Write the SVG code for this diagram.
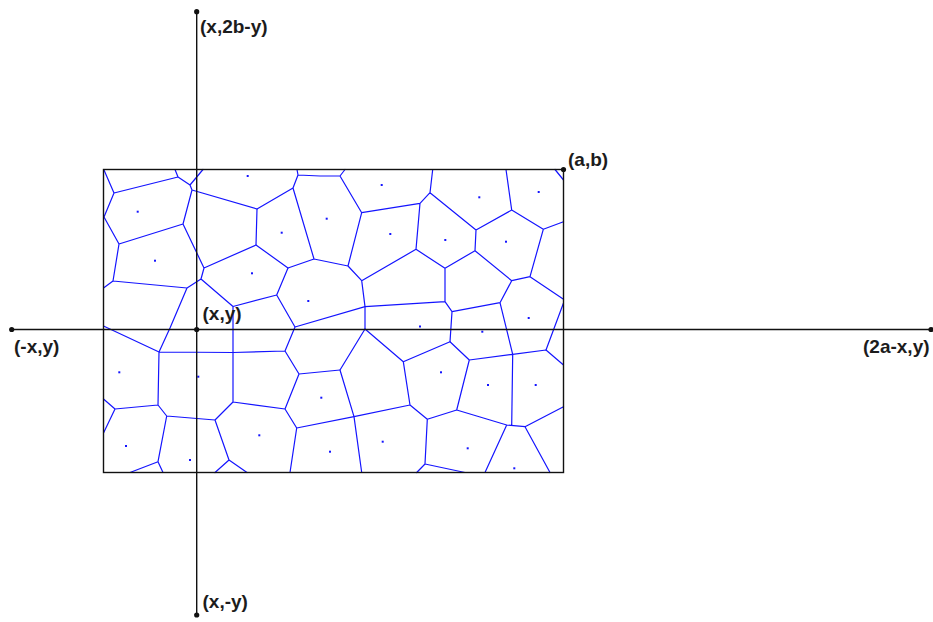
<svg xmlns="http://www.w3.org/2000/svg" width="933" height="622" viewBox="0 0 933 622">
<style>
.v{stroke:#1414ff;stroke-width:1.2;fill:none;stroke-linecap:round;stroke-linejoin:round}
.ax{stroke:#111;stroke-width:1.4;fill:none}
.s{fill:#1414ff}
.lbl{font-family:"Liberation Sans",Arial,sans-serif;font-weight:bold;font-size:19px;fill:#1c1c1c}
</style>
<rect width="933" height="622" fill="#fff"/>
<g id="voronoi" class="v">
<path d="M175,169.5L178,177L114,193L104,170M178,177L190,185L203,169.5M190,185L192,190L257,209M192,190L183,224M114,193L104,217L119,244L183,224M119,244L113,281L103.5,288M113,281L187,288M183,224L204,268L256,245M204,268L201,279L187,288M201,279L233,306.5M187,288L170,328L159,352M103.5,326L159,352L233,352.5L285,351M233,306.5L233,402M233,306.5L276.7,295L288,268M276.7,295L295,327L365,306.7M295,327L285,351L299,374L340,370M299,374L285,409L233,402M285,409L296.7,428L354,416.7M296.7,428L290,472.5M159,352L158,405L115,409L103.5,399M115,409L103.5,433M158,405L166.7,416L215,420L233,402M166.7,416L158,461.7L130,472.5M158,461.7L163,472.5M215,420L229,460L215,472.5M229,460L247,472.5"/>
<path d="M256,245L257,209L293,188L298,175L297,169.5M298,175L320,176L340,176L345,169.5M340,176L361.7,212.7L420,203.3L430,192.7L432.7,169.5M430,192.7L476,230M420,203.3L416,249.3M293,188L314,259L288,268L256,245M314,259L348,266L361.7,212.7M348,266L361.7,280.7L416,249.3L445,268.3L475,250.7M361.7,280.7L365,306.7L445,301.7L452,311.7L500,302.7M365,306.7L365,329M445,268.3L445,301.7M452,311.7L450,341.7M476,230L511.7,210L506,169.5M476,230L475,250.7L511.7,280.7L530,276.7L563.5,299.3M511.7,210L543.3,229.3L563.5,221.7M543.3,229.3L530,276.7M511.7,280.7L500,302.7L512.7,354.3M563.5,303L546,350M555,169.5L563.5,180"/>
<path d="M365,329L340,370L354,416.7L410,405M354,416.7L361.7,472.5M365,329L403.3,361.7L450,341.7L469.3,360L512.7,354.3L546,350L563.5,365M403.3,361.7L410,405L427.3,419.3L456.7,410L506.7,425L525,426.7L563.5,406.7M469.3,360L456.7,410M512.7,354.3L511.7,425M427.3,419.3L425,464L416.7,472.5M425,464L465,472.5M506.7,425L485,472.5M525,426.7L550,472.5"/>
</g>
<g id="sites" class="s">
<rect x="246.7" y="175" width="2" height="2"/><rect x="136.7" y="210.7" width="2" height="2"/><rect x="325.7" y="217.7" width="2" height="2"/><rect x="280.7" y="231.7" width="2" height="2"/><rect x="154" y="259.7" width="2" height="2"/><rect x="251" y="272.3" width="2" height="2"/><rect x="307.3" y="300" width="2" height="2"/><rect x="380.7" y="184" width="2" height="2"/><rect x="478.3" y="196.3" width="2" height="2"/><rect x="537.7" y="191" width="2" height="2"/><rect x="389.3" y="233" width="2" height="2"/><rect x="444.3" y="239" width="2" height="2"/><rect x="505" y="240.7" width="2" height="2"/><rect x="527.7" y="317" width="2" height="2"/><rect x="419" y="325.5" width="2" height="2"/><rect x="118.3" y="371.3" width="2" height="2"/><rect x="197.3" y="375.7" width="2" height="2"/><rect x="320.3" y="396.7" width="2" height="2"/><rect x="125" y="445" width="2" height="2"/><rect x="189" y="459" width="2" height="2"/><rect x="258.3" y="434.3" width="2" height="2"/><rect x="329" y="450.7" width="2" height="2"/><rect x="481.3" y="330.7" width="2" height="2"/><rect x="440" y="371.3" width="2" height="2"/><rect x="487" y="384" width="2" height="2"/><rect x="534.7" y="384" width="2" height="2"/><rect x="381.7" y="440.7" width="2" height="2"/><rect x="466.7" y="447.3" width="2" height="2"/><rect x="513.3" y="467.3" width="2" height="2"/>
</g>
<g id="frame">
<rect x="103.5" y="169.5" width="460" height="303" class="ax"/>
</g>
<g id="axes">
<line x1="11.7" y1="329.5" x2="931.7" y2="329.5" class="ax"/>
<line x1="196.7" y1="11.7" x2="196.7" y2="615" class="ax"/>
<circle cx="11.7" cy="329.5" r="2.6" fill="#111"/>
<circle cx="931" cy="329.5" r="2.6" fill="#111"/>
<circle cx="196.7" cy="11.7" r="2.6" fill="#111"/>
<circle cx="196.7" cy="615" r="2.6" fill="#111"/>
<circle cx="196.7" cy="329.5" r="2.6" fill="#111"/>
<circle cx="563.5" cy="169.5" r="2.6" fill="#111"/>
</g>
<g id="labels" class="lbl">
<text x="200" y="33">(x,2b-y)</text>
<text x="568" y="166">(a,b)</text>
<text x="202.5" y="319.5">(x,y)</text>
<text x="14" y="353">(-x,y)</text>
<text x="863" y="353">(2a-x,y)</text>
<text x="202.5" y="607.5">(x,-y)</text>
</g>
</svg>
